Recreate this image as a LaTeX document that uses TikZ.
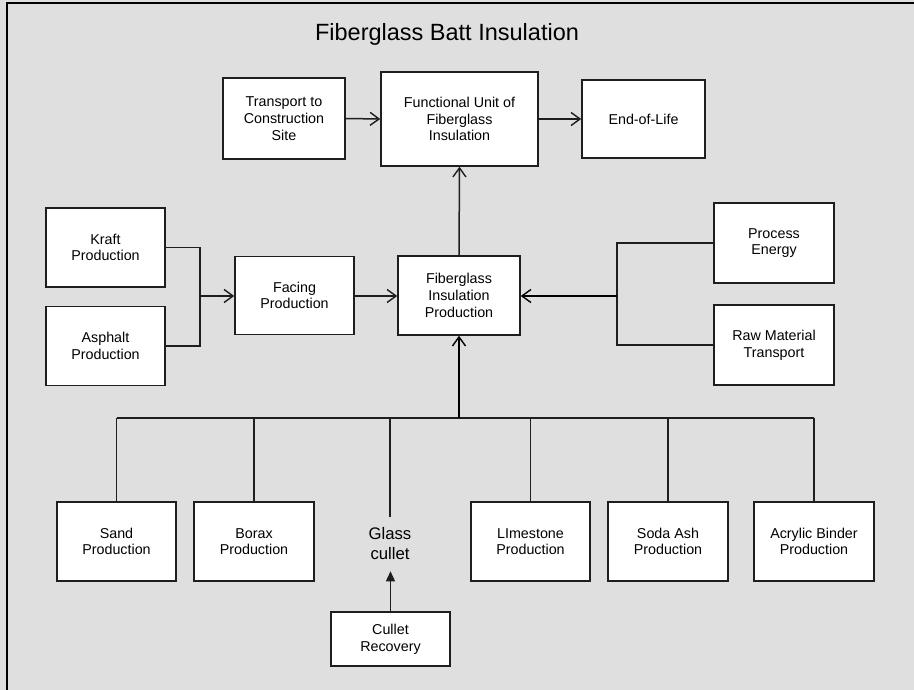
\documentclass[tikz,border=0pt]{standalone}
\usepackage{fontspec}
\setmainfont{Liberation Sans}
\usetikzlibrary{arrows.meta}
\definecolor{bggrey}{RGB}{223,223,223}
\definecolor{lineclr}{RGB}{30,30,30}
\begin{document}
\begin{tikzpicture}[x=1pt,y=-1pt,
  box/.style={draw=lineclr,line width=1.5pt,fill=white,inner sep=0pt,align=center,
    font=\fontsize{14.3}{16.7}\selectfont,minimum width=119pt,minimum height=79pt},
  conn/.style={draw=lineclr,line width=1.5pt},
  thick conn/.style={draw=black,line width=2.2pt},
  open arrow/.style={-{Straight Barb[length=9pt,width=13pt,line width=1.4pt]}},
  fill arrow/.style={-{Triangle[length=10pt,width=9pt]}}]
\useasboundingbox (0,0) rectangle (914,690);
\fill[bggrey] (0,0) rectangle (914,690);
\draw[black,line width=2pt] (7,690) -- (7,3) -- (914,3);

\node[font=\fontsize{23.5}{28}\selectfont] (title) at (447,34) {Fiberglass Batt Insulation};

\node[box,minimum width=122pt,minimum height=81pt] (transport) at (284,118.5) {Transport to\\Construction\\Site};
\node[box,minimum width=157pt,minimum height=94pt] (fu) at (459.5,119) {Functional Unit of\\Fiberglass\\Insulation};
\node[box,minimum width=123pt,minimum height=78pt] (eol) at (643.5,119) {End-of-Life};

\node[box] (kraft) at (105.5,247.5) {Kraft\\Production};
\node[box] (asphalt) at (105.5,346) {Asphalt\\Production};
\node[box,minimum height=78pt] (facing) at (294.5,295.5) {Facing\\Production};
\node[box,minimum width=122pt] (fip) at (459,295.5) {Fiberglass\\Insulation\\Production};
\node[box,minimum width=120pt,minimum height=80pt] (energy) at (774,243) {Process\\Energy};
\node[box,minimum width=120pt,minimum height=80pt] (rawtr) at (774,345) {Raw Material\\Transport};

\node[box] (sand) at (116.5,541.5) {Sand\\Production};
\node[box,minimum width=120pt] (borax) at (254,541.5) {Borax\\Production};
\node[align=center,inner sep=0pt,font=\fontsize{16.7}{20}\selectfont] (cullet) at (390,544) {Glass\\cullet};
\node[box] (lime) at (530.5,541.5) {LImestone\\Production};
\node[box,minimum width=120pt] (soda) at (668,541.5) {Soda Ash\\Production};
\node[box,minimum width=120pt] (acrylic) at (814,541.5) {Acrylic Binder\\Production};
\node[box,minimum width=119pt,minimum height=54pt] (recov) at (390.5,639) {Cullet\\Recovery};

% top row
\draw[conn,open arrow] (transport.east) -- (fu.west);
\draw[conn,open arrow] (fu.east |- eol.west) -- (eol.west);
\draw[conn,open arrow] (fip.north) -- (fu.south);

% facing branch
\coordinate (kb) at (200,296);
\draw[conn] (kraft.east) -| (kb);
\draw[conn] (asphalt.east) -| (kb);
\draw[conn,open arrow] (kb) -- (facing.west |- kb);
\draw[conn,open arrow] (facing.east |- kb) -- (fip.west |- kb);

% energy branch
\coordinate (eb) at (617,296);
\draw[conn] (energy.west) -| (eb);
\draw[conn] (rawtr.west) -| (eb);
\draw[thick conn,open arrow] (eb) -- (fip.east |- eb);

% bus
\coordinate (busL) at (116.5,418);
\coordinate (busM) at (459,418);
\coordinate (busR) at (814,418);
\coordinate (cullettop) at (390,517);
\draw[conn] (busL) -- (busR);
\draw[conn] (sand.north) -- (sand.north |- busL);
\draw[conn] (borax.north) -- (borax.north |- busL);
\draw[conn] (cullettop) -- (cullettop |- busL);
\draw[conn] (lime.north) -- (lime.north |- busL);
\draw[conn] (soda.north) -- (soda.north |- busL);
\draw[conn] (acrylic.north) -- (acrylic.north |- busL);
\draw[thick conn,open arrow] (busM) -- (fip.south);

% cullet recovery
\draw[conn,line width=1.3pt,fill arrow] (recov.north) -- ++(0,-40);
\end{tikzpicture}
\end{document}
